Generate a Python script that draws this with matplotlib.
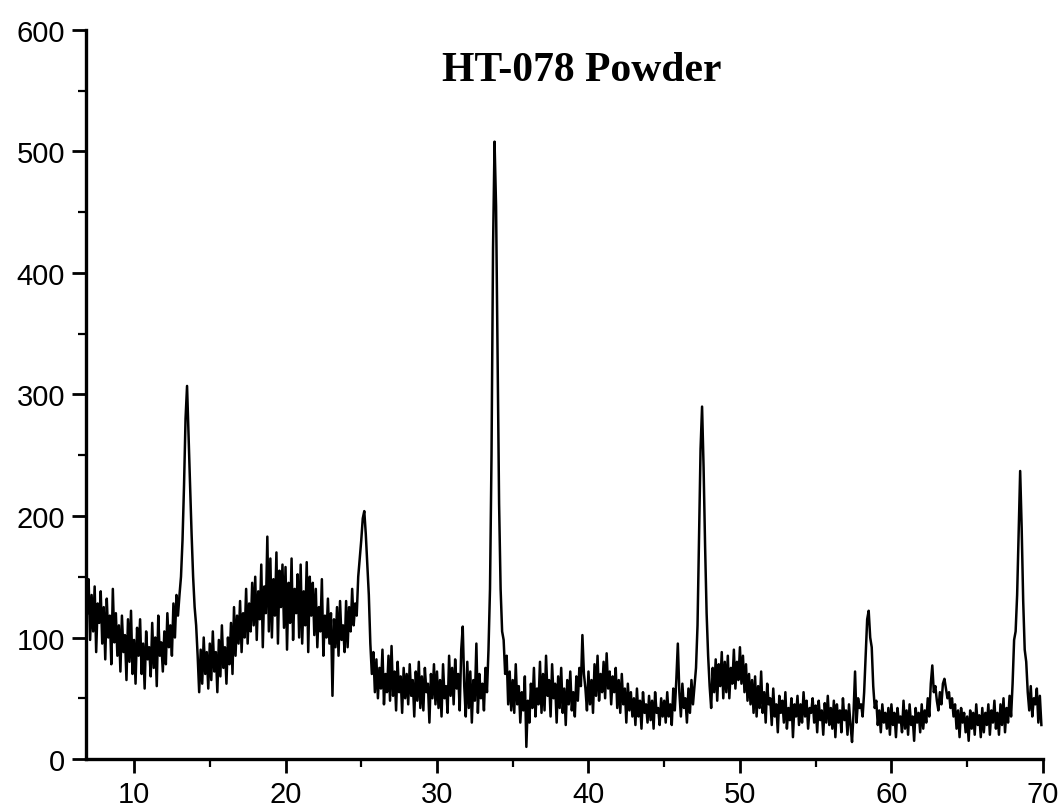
import numpy as np
import matplotlib
matplotlib.use("Agg")
import matplotlib.pyplot as plt
from matplotlib.ticker import MultipleLocator

# ---- data: 2-theta grid (start, step) and intensities read per degree ----
theta_start = 6.9
theta_step = 0.1

i_06 = [120]
i_07 = [148, 98, 135, 105, 142, 88, 128, 112, 138, 95]
i_08 = [125, 82, 132, 100, 118, 78, 140, 96, 120, 85]
i_09 = [110, 72, 118, 88, 102, 65, 115, 80, 122, 70]
i_10 = [98, 62, 108, 85, 115, 70, 95, 58, 105, 82]
i_11 = [92, 68, 112, 75, 100, 60, 118, 85, 96, 72]
i_12 = [105, 78, 120, 92, 110, 85, 128, 100, 135, 118]
i_13 = [135, 150, 180, 225, 280, 307, 265, 225, 185, 150]
i_14 = [125, 110, 85, 55, 90, 62, 100, 70, 88, 58]
i_15 = [95, 65, 105, 72, 88, 55, 98, 68, 110, 75]
i_16 = [92, 62, 100, 78, 112, 70, 125, 85, 118, 95]
i_17 = [130, 88, 120, 100, 140, 95, 128, 105, 145, 110]
i_18 = [150, 98, 138, 115, 160, 92, 142, 120, 183, 105]
i_19 = [165, 100, 148, 118, 170, 95, 155, 125, 160, 108]
i_20 = [158, 90, 145, 112, 165, 98, 140, 120, 152, 100]
i_21 = [160, 95, 138, 110, 162, 88, 150, 118, 145, 102]
i_22 = [140, 92, 125, 105, 148, 85, 118, 100, 132, 95]
i_23 = [120, 52, 115, 92, 125, 85, 130, 98, 110, 88]
i_24 = [130, 92, 125, 105, 140, 110, 128, 118, 150, 165]
i_25 = [180, 198, 204, 185, 160, 135, 95, 70, 88, 55]
i_26 = [82, 50, 75, 58, 90, 45, 70, 55, 85, 48]
i_27 = [93, 52, 72, 40, 80, 55, 68, 38, 75, 50]
i_28 = [70, 45, 78, 52, 65, 35, 72, 48, 80, 42]
i_29 = [68, 40, 75, 55, 62, 30, 70, 50, 78, 45]
i_30 = [72, 42, 65, 35, 78, 50, 60, 38, 85, 52]
i_31 = [75, 45, 82, 58, 70, 40, 90, 109, 60, 35]
i_32 = [80, 42, 72, 30, 65, 48, 95, 38, 70, 50]
i_33 = [62, 40, 75, 55, 90, 140, 250, 420, 508, 455]
i_34 = [330, 210, 140, 105, 98, 70, 85, 45, 72, 40]
i_35 = [65, 38, 78, 45, 60, 30, 55, 40, 68, 10]
i_36 = [48, 30, 62, 42, 75, 35, 58, 45, 80, 38]
i_37 = [70, 40, 85, 52, 65, 35, 78, 50, 62, 30]
i_38 = [68, 42, 75, 38, 58, 28, 65, 45, 72, 40]
i_39 = [55, 35, 68, 48, 75, 60, 102, 70, 58, 40]
i_40 = [72, 45, 65, 38, 78, 52, 85, 48, 70, 55]
i_41 = [80, 50, 87, 58, 72, 45, 68, 55, 75, 42]
i_42 = [65, 38, 70, 45, 58, 30, 62, 40, 55, 35]
i_43 = [50, 28, 58, 35, 48, 25, 55, 38, 45, 30]
i_44 = [52, 32, 48, 25, 55, 38, 42, 28, 50, 35]
i_45 = [48, 30, 55, 35, 45, 28, 58, 40, 65, 95]
i_46 = [55, 35, 62, 42, 50, 30, 58, 38, 65, 45]
i_47 = [60, 75, 110, 180, 255, 290, 240, 175, 120, 85]
i_48 = [60, 42, 75, 55, 82, 48, 78, 60, 88, 50]
i_49 = [80, 55, 85, 50, 75, 62, 90, 58, 80, 65]
i_50 = [92, 62, 85, 55, 78, 48, 70, 45, 65, 38]
i_51 = [68, 35, 60, 42, 72, 38, 55, 30, 62, 45]
i_52 = [50, 28, 58, 35, 45, 22, 52, 38, 48, 30]
i_53 = [55, 25, 42, 32, 50, 18, 45, 35, 52, 28]
i_54 = [45, 30, 55, 35, 48, 25, 42, 38, 50, 30]
i_55 = [44, 22, 48, 32, 40, 20, 46, 30, 52, 28]
i_56 = [42, 25, 48, 18, 45, 30, 40, 22, 50, 32]
i_57 = [40, 20, 45, 28, 14, 38, 72, 30, 50, 42]
i_58 = [45, 35, 55, 85, 115, 122, 100, 92, 60, 42]
i_59 = [48, 28, 40, 22, 45, 30, 38, 25, 42, 20]
i_60 = [45, 28, 38, 18, 42, 30, 35, 22, 48, 25]
i_61 = [40, 20, 45, 28, 35, 15, 42, 30, 38, 22]
i_62 = [45, 25, 40, 30, 50, 35, 62, 77, 55, 60]
i_63 = [48, 40, 55, 45, 62, 66, 58, 50, 55, 42]
i_64 = [50, 35, 45, 25, 40, 18, 42, 30, 38, 22]
i_65 = [35, 15, 40, 25, 38, 20, 45, 28, 36, 18]
i_66 = [42, 22, 38, 28, 45, 20, 40, 30, 48, 25]
i_67 = [38, 20, 45, 28, 50, 22, 42, 30, 52, 35]
i_68 = [62, 98, 105, 135, 185, 237, 190, 130, 90, 80]
i_69 = [55, 40, 60, 35, 50, 45, 58, 30, 52, 28]

x_ticks = [10, 20, 30, 40, 50, 60, 70]
y_ticks = [0, 100, 200, 300, 400, 500, 600]
title_text = "HT-078 Powder"

intensity = np.array(
    i_06 + i_07 + i_08 + i_09 + i_10 + i_11 + i_12 + i_13 + i_14 + i_15 + i_16
    + i_17 + i_18 + i_19 + i_20 + i_21 + i_22 + i_23 + i_24 + i_25 + i_26
    + i_27 + i_28 + i_29 + i_30 + i_31 + i_32 + i_33 + i_34 + i_35 + i_36
    + i_37 + i_38 + i_39 + i_40 + i_41 + i_42 + i_43 + i_44 + i_45 + i_46
    + i_47 + i_48 + i_49 + i_50 + i_51 + i_52 + i_53 + i_54 + i_55 + i_56
    + i_57 + i_58 + i_59 + i_60 + i_61 + i_62 + i_63 + i_64 + i_65 + i_66
    + i_67 + i_68 + i_69, dtype=float)
two_theta = theta_start + theta_step * np.arange(len(intensity))

# ---- figure ----
fig = plt.figure(figsize=(10.62, 8.12), dpi=100)
ax = fig.add_axes([0.081, 0.064, 0.901, 0.898])

ax.plot(two_theta, intensity, color="black", linewidth=1.8)

ax.set_xlim(6.83, 70)
ax.set_ylim(0, 600)
ax.set_xticks(x_ticks)
ax.set_yticks(y_ticks)
ax.xaxis.set_minor_locator(MultipleLocator(5))
ax.yaxis.set_minor_locator(MultipleLocator(50))

for s in ["top", "right"]:
    ax.spines[s].set_visible(False)
for s in ["left", "bottom"]:
    ax.spines[s].set_linewidth(2.4)

ax.tick_params(which="major", direction="out", length=10, width=2,
               labelsize=21, pad=5)
ax.tick_params(which="minor", direction="out", length=6, width=1.6)
for lab in ax.get_xticklabels() + ax.get_yticklabels():
    lab.set_family("Liberation Sans")

ax.text(0.518, 0.945, title_text, transform=ax.transAxes,
        ha="center", va="center", fontsize=30, fontweight="bold",
        family="Liberation Serif")

fig.savefig("out.png", dpi=100, facecolor="white")
